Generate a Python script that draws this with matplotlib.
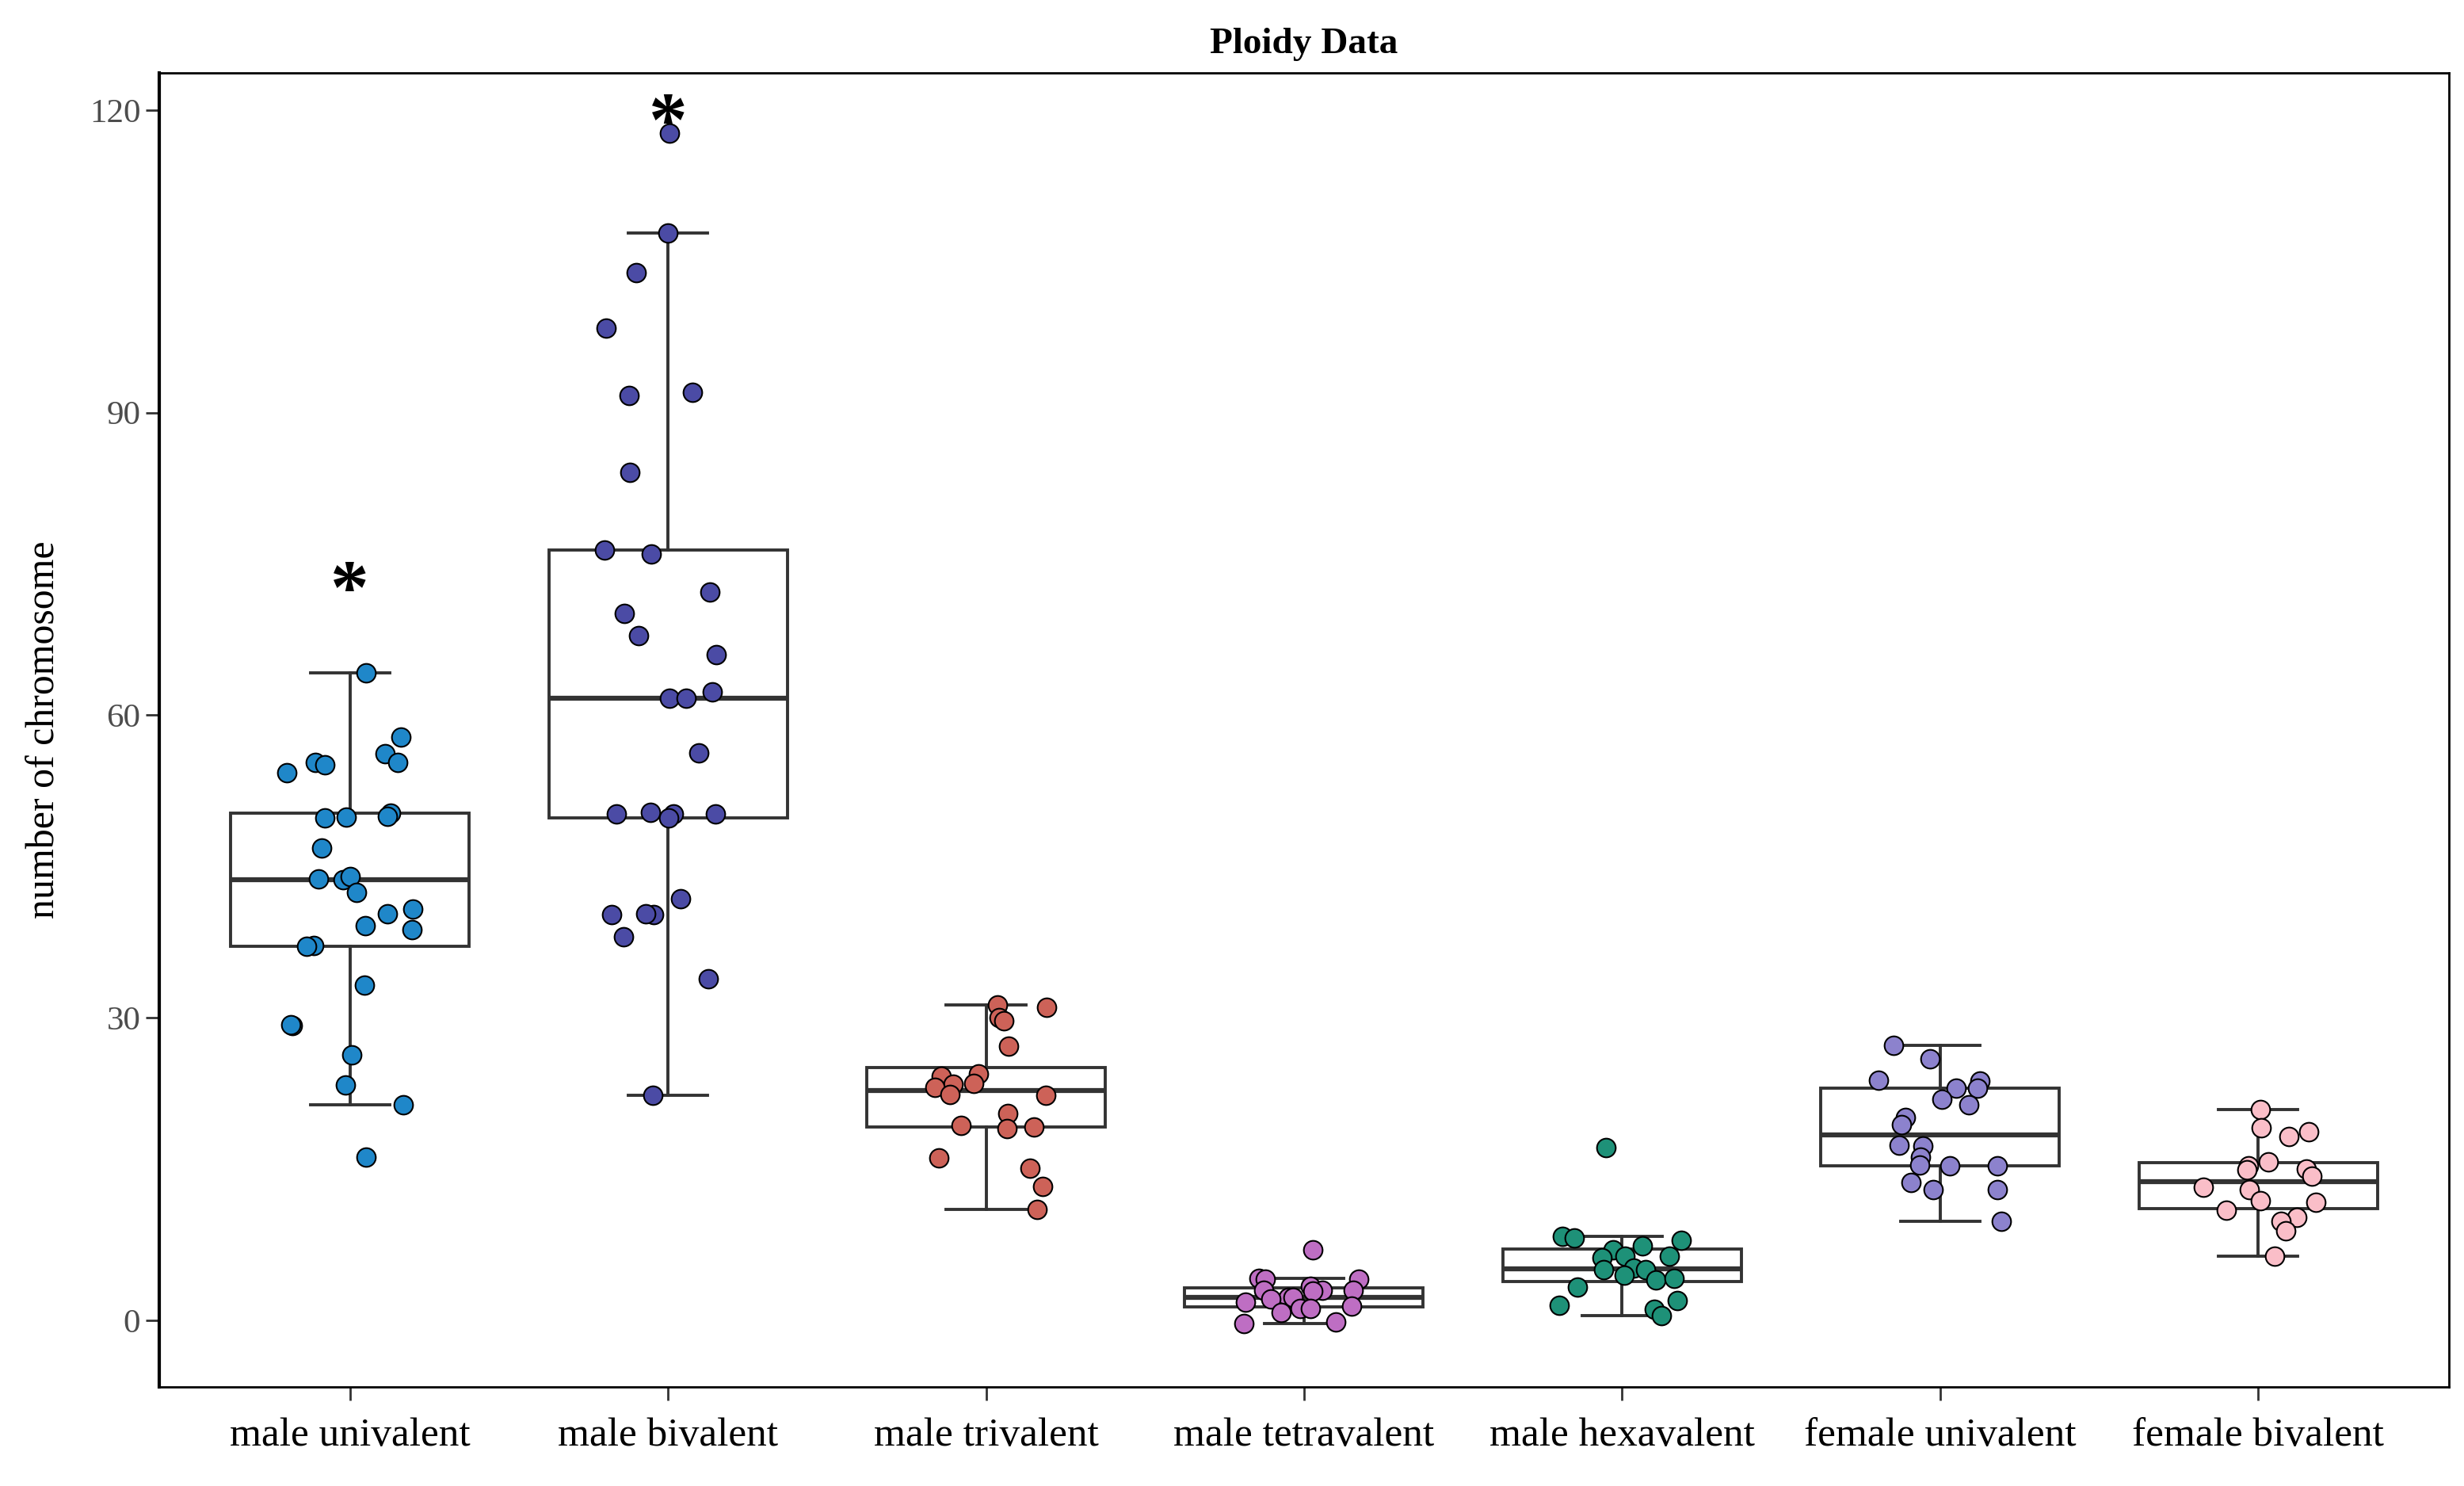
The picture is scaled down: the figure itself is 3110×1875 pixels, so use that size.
import numpy as np
import matplotlib
matplotlib.use('Agg')
from matplotlib import pyplot as plt

plt.rcParams['font.family'] = ['Liberation Serif', 'DejaVu Serif']

# values
categories = ['male univalent', 'male bivalent', 'male trivalent', 'male tetravalent',
              'male hexavalent', 'female univalent', 'female bivalent']

male_univalent = [64.2, 57.8, 56.2, 55.3, 55.1, 55.3, 54.3, 50.3, 50.0, 49.9, 49.8, 46.8,
                  43.8, 43.7, 44.0, 42.4, 40.8, 40.3, 39.1, 38.7, 37.2, 37.1, 33.2, 29.2,
                  29.3, 26.3, 23.3, 21.4, 16.2]
male_bivalent = [117.7, 107.8, 103.9, 98.4, 91.7, 92.0, 84.1, 76.0, 76.4, 72.2, 70.1, 67.9,
                 66.0, 61.7, 62.3, 61.7, 56.3, 50.2, 50.2, 49.8, 50.2, 50.4, 41.8, 40.2,
                 40.2, 40.3, 38.0, 33.9, 22.3]
male_trivalent = [31.0, 31.3, 30.0, 29.7, 27.2, 24.2, 24.4, 23.4, 23.5, 23.1, 22.3, 22.4,
                  20.5, 19.3, 19.2, 19.0, 16.1, 15.1, 13.3, 11.0]
male_tetravalent = [7.0, 4.2, 4.1, 4.1, 3.4, 3.0, 3.0, 3.0, 2.9, 2.3, 2.3, 2.1, 1.8, 1.4,
                    1.2, 1.2, 0.8, -0.2, -0.3]
male_hexavalent = [17.1, 8.3, 8.2, 7.9, 7.4, 7.0, 6.4, 6.4, 6.2, 5.2, 5.0, 5.0, 4.5, 4.0,
                   4.2, 3.3, 2.0, 1.5, 1.1, 0.5]
female_univalent = [27.3, 25.9, 23.7, 23.8, 23.0, 23.0, 21.9, 21.4, 20.1, 19.4, 17.3, 17.4,
                    16.2, 15.3, 15.3, 15.4, 13.7, 13.0, 13.0, 9.8]
female_bivalent = [20.9, 19.1, 18.7, 18.2, 15.7, 15.3, 15.0, 14.9, 14.3, 13.2, 13.0, 11.9,
                   11.7, 10.9, 10.2, 9.8, 8.9, 6.4]

groups = [male_univalent, male_bivalent, male_trivalent, male_tetravalent,
          male_hexavalent, female_univalent, female_bivalent]
colors = ['#1f87c9', '#4b4ba5', '#cd6258', '#be6ec3', '#1e9178', '#8c82cd', '#fabec8']

# significance stars: (group index, height)
stars = [(0, 72.0), (1, 118.4)]

fig = plt.figure(figsize=(31.1, 18.75), dpi=100)
ax = fig.add_axes([0.0646, 0.0667, 0.9293, 0.8843])

pos = np.arange(1, len(groups) + 1)
box_col = '#333333'
ax.boxplot(groups, positions=pos, widths=0.75, capwidths=0.25, whis=1.5,
           showfliers=False, patch_artist=True,
           boxprops=dict(facecolor='white', edgecolor=box_col, linewidth=2.8),
           whiskerprops=dict(color=box_col, linewidth=2.8),
           capprops=dict(color=box_col, linewidth=2.8),
           medianprops=dict(color=box_col, linewidth=4.5))

# jittered points, like geom_jitter(width = 0.2)
rng = np.random.default_rng(7)
for i, vals in enumerate(groups):
    xs = pos[i] + rng.uniform(-0.2, 0.2, len(vals))
    ax.scatter(xs, vals, s=290, c=colors[i], edgecolors='black', linewidths=1.5, zorder=3)

for i, h in stars:
    ax.text(pos[i], h, '*', ha='center', va='center', fontsize=70, fontweight='bold')

ax.set_xlim(0.4, 7.6)
ax.set_ylim(-6.6, 123.7)
ax.set_yticks([0, 30, 60, 90, 120])
ax.set_xticks(pos)
ax.set_xticklabels(categories, fontsize=37)
ax.tick_params(axis='x', length=12, width=2, color='#333333', pad=16)
ax.tick_params(axis='y', length=12, width=2, color='#333333', pad=5,
               labelsize=31, labelcolor='#4d4d4d')
for sp in ax.spines.values():
    sp.set_linewidth(2)
    sp.set_color('black')
ax.spines['left'].set_linewidth(3)

ax.set_ylabel('number of chromosome', fontsize=36, labelpad=24)
ax.set_title('Ploidy Data', fontsize=34, fontweight='bold', pad=18)

fig.savefig('out.png', dpi=100)
